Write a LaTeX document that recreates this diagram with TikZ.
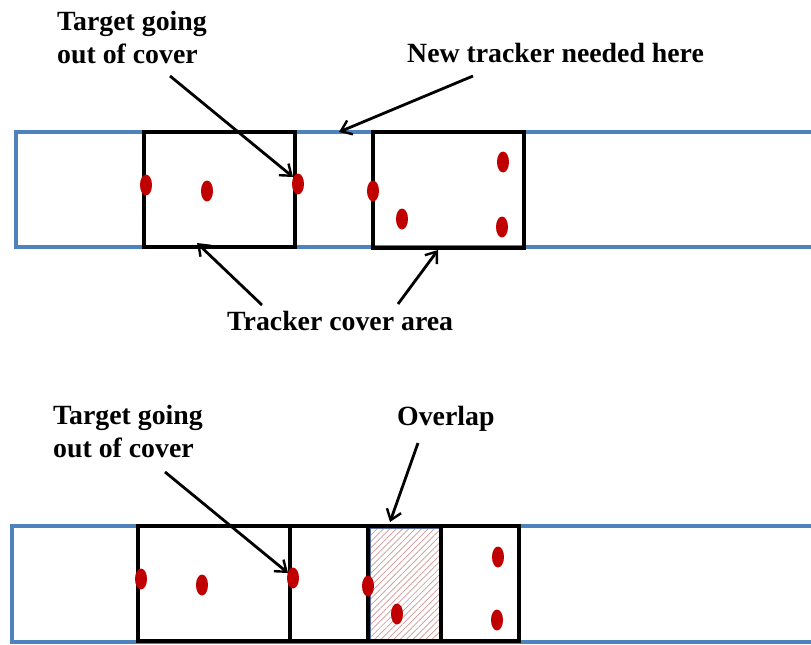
\documentclass[tikz,border=0pt]{standalone}
\usepackage{fontspec}
\setmainfont{Liberation Serif}
\usetikzlibrary{arrows.meta,shapes.geometric,patterns.meta}
\definecolor{bandblue}{RGB}{79,129,189}
\definecolor{dotred}{RGB}{192,0,0}
\definecolor{hatchred}{RGB}{205,150,150}
\definecolor{hatchblue}{RGB}{90,110,160}
\tikzset{
  band/.style={draw=bandblue,line width=4pt},
  cover/.style={draw=black,line width=4pt},
  target/.style={ellipse,fill=dotred,minimum width=12pt,minimum height=21pt,inner sep=0pt,draw=none},
  label/.style={font=\fontsize{27.8}{33}\selectfont\bfseries,inner sep=0pt,align=left},
  pointer/.style={draw=black,line width=2.8pt,-{Straight Barb[length=10pt,width=15pt,line width=2.4pt]}}
}
\begin{document}
\begin{tikzpicture}[x=1pt,y=-1pt]
\useasboundingbox (0,0) rectangle (811,645);
% ---------- top diagram ----------
\draw[band] (815,131.5) -- (15.5,131.5) -- (15.5,247) -- (815,247);
\draw[cover] (144,132) rectangle (295,247);
\draw[cover] (373,132) rectangle (524,248);
\node[target] (t1) at (146,185) {};
\node[target] (t2) at (207,191) {};
\node[target] (t3) at (298,184) {};
\node[target] (t4) at (373,191) {};
\node[target] (t5) at (503,162) {};
\node[target] (t6) at (402,219) {};
\node[target] (t7) at (502,227) {};
\node[label,anchor=base west] (lgo) at (57,63) {Target going\\out of cover};
\node[label,anchor=base west] (lnew) at (407,62) {New tracker needed here};
\node[label,anchor=base west] (lcov) at (227,330) {Tracker cover area};
\coordinate (a1s) at (170,76);
\coordinate (a1e) at (293,177);
\coordinate (a2s) at (473,76);
\coordinate (a2e) at (339,132);
\coordinate (a3s) at (262,305);
\coordinate (a3e) at (197,243);
\coordinate (a4s) at (398,304);
\coordinate (a4e) at (438,250);
\draw[pointer] (a1s) -- (a1e);
\draw[pointer] (a2s) -- (a2e);
\draw[pointer] (a3s) -- (a3e);
\draw[pointer] (a4s) -- (a4e);
% ---------- bottom diagram ----------
\draw[band] (815,526) -- (12,526) -- (12,642) -- (815,642);
\fill[pattern={Lines[angle=45,distance=4.5pt,line width=0.7pt]},pattern color=hatchred] (368,528) rectangle (441,640);
\draw[hatchblue,line width=0.8pt] (370,528) rectangle (439,640);
\draw[cover] (138,526) rectangle (519,641);
\draw[cover] (290,526) -- (290,641);
\draw[cover] (368,526) -- (368,641);
\draw[cover] (441,526) -- (441,641);
\node[target] (b1) at (141,579) {};
\node[target] (b2) at (202,585) {};
\node[target] (b3) at (293,578) {};
\node[target] (b4) at (368,586) {};
\node[target] (b5) at (498,557) {};
\node[target] (b6) at (397,614) {};
\node[target] (b7) at (497,620) {};
\node[label,anchor=base west] (lgo2) at (53,457) {Target going\\out of cover};
\node[label,anchor=base west] (lover) at (397,425) {Overlap};
\coordinate (a5s) at (165,472);
\coordinate (a5e) at (288,573);
\coordinate (a6s) at (418,443);
\coordinate (a6e) at (390,522);
\draw[pointer] (a5s) -- (a5e);
\draw[pointer] (a6s) -- (a6e);
\end{tikzpicture}
\end{document}
